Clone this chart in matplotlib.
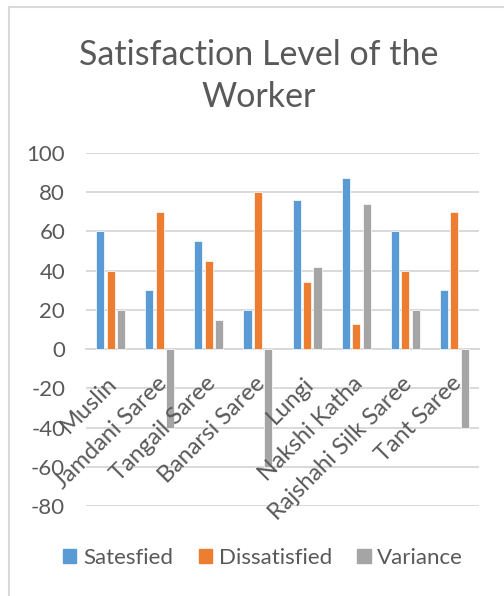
import matplotlib
matplotlib.use("Agg")
import matplotlib.pyplot as plt
import matplotlib.transforms as mtransforms
import numpy as np
from matplotlib.patches import Rectangle
from matplotlib.lines import Line2D

categories = ["Muslin", "Jamdani Saree", "Tangail Saree", "Banarsi Saree",
              "Lungi", "Nakshi Katha", "Rajshahi Silk Saree", "Tant Saree"]
satisfied = [60, 30, 55, 20, 76, 87, 60, 30]
dissatisfied = [40, 70, 45, 80, 34, 13, 40, 70]
variance = [20, -40, 15, -60, 42, 74, 20, -40]
series_names = ["Satesfied", "Dissatisfied", "Variance"]
colors = ["#5B9BD5", "#ED7D31", "#A5A5A5"]
yticks = [-80, -60, -40, -20, 0, 20, 40, 60, 80, 100]

plt.rcParams['font.family'] = ['Lato', 'DejaVu Sans']
text_color = "#595959"

fig = plt.figure(figsize=(5.04, 5.96), dpi=100)
ax = fig.add_axes([86/504, 1-506/596, (479-86)/504, (506-153)/596])

x = np.arange(len(categories))
w = 0.165
off = 0.213
for k, (vals, c, n) in enumerate(zip([satisfied, dissatisfied, variance], colors, series_names)):
    ax.bar(x + (k-1)*off, vals, width=w, color=c, edgecolor='white', linewidth=0.5, label=n, zorder=3)

ax.set_xlim(-0.5, len(categories)-0.5)
ax.set_ylim(-80, 100)
ax.set_yticks(yticks)
ax.set_yticklabels([str(v) for v in yticks], fontsize=16, color=text_color)
ax.grid(axis='y', color='#D9D9D9', linewidth=1.4, zorder=0)
for s in ['top', 'right', 'left']:
    ax.spines[s].set_visible(False)
ax.spines['bottom'].set_position(('data', 0))
ax.spines['bottom'].set_color('#D9D9D9')
ax.spines['bottom'].set_linewidth(1.4)
ax.tick_params(axis='y', length=0, pad=15)
ax.tick_params(axis='x', length=0, pad=17)
ax.set_xticks(x)
ax.set_xticklabels(categories, rotation=45, ha='right', va='top',
                   rotation_mode='anchor', fontsize=17, color=text_color)
shift = mtransforms.ScaledTranslation(-4/100, 0, fig.dpi_scale_trans)
for lab in ax.get_xticklabels():
    lab.set_transform(lab.get_transform() + shift)
ax.xaxis.set_zorder(4)

fig.text(0.513, 1-76/596, "Satisfaction Level of the\nWorker", ha='center', va='center',
         fontsize=24.5, color=text_color, linespacing=1.42)

handles = [Rectangle((0, 0), 1, 1, color=c) for c in colors]
leg = fig.legend(handles, series_names, loc='center', bbox_to_anchor=(0.522, 1-558/596),
                 ncol=3, frameon=False, fontsize=16, handlelength=0.6, handleheight=0.6,
                 handletextpad=0.3, columnspacing=1.15, labelcolor=text_color)

# chart border (cropped: only top and left visible)
fig.add_artist(Line2D([9/504, 1], [1-7/596, 1-7/596], transform=fig.transFigure, color='#D9D9D9', linewidth=1.5))
fig.add_artist(Line2D([9/504, 9/504], [0, 1-7/596], transform=fig.transFigure, color='#D9D9D9', linewidth=1.5))

fig.savefig("out.png", dpi=100, facecolor='white')
